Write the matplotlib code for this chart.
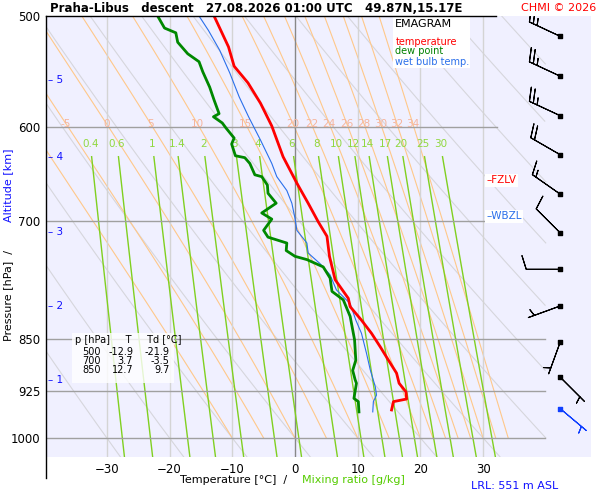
import numpy as np
import matplotlib.pyplot as plt

# sounding: temperature, dew point and wet bulb (pressure in hPa, temperature in degC)
p_temp = [500, 526, 543, 558, 577, 599, 630, 658, 680, 701, 718, 742, 771, 795, 806,
          824, 842, 861, 880, 899, 914, 927, 938, 942, 955]
t_temp = [-12.9, -10.6, -9.7, -7.5, -5.5, -3.7, -1.9, 0.3, 2.1, 3.7, 5.1, 5.5, 6.4, 8.5, 8.8,
          10.6, 12.2, 13.6, 14.9, 16.2, 16.6, 17.7, 17.8, 15.7, 15.4]

p_dew = [500, 510, 514, 522, 532, 539, 548, 562, 574, 587, 590, 596, 601, 611, 617, 629, 631,
         637, 649, 651, 660, 669, 680, 691, 698, 711, 719, 726, 735, 742, 746, 755, 769,
         786, 797, 819, 851, 880, 895, 909, 914, 937, 942, 958]
t_dew = [-21.9, -20.8, -19.0, -18.7, -17.1, -15.3, -14.7, -13.6, -12.9, -12.1, -13.0, -11.6,
         -11.0, -9.7, -10.1, -9.5, -8.0, -7.2, -6.4, -5.3, -4.4, -4.3, -3.0, -5.3, -3.7, -5.0,
         -4.3, -1.3, -1.4, 0.0, 1.9, 4.5, 5.6, 5.9, 7.7, 8.8, 9.5, 9.7, 9.2, 9.6, 9.8, 9.4,
         10.1, 10.2]

p_wet = [500, 512, 529, 549, 571, 590, 613, 637, 651, 666, 680, 697, 711, 726, 738, 751, 765,
         784, 802, 824, 842, 870, 894, 919, 932, 942, 958]
t_wet = [-15.3, -13.8, -12.0, -10.4, -8.9, -7.4, -5.5, -3.7, -2.9, -1.3, -0.5, 0.0, 0.3, 1.9,
         2.1, 4.0, 5.6, 6.6, 8.8, 9.7, 10.6, 11.4, 12.0, 12.8, 13.0, 12.5, 12.4]

# wind barbs
p_wind = [517, 552, 589, 628, 670, 714, 758, 805, 854, 905, 953]
wdir = [295, 295, 295, 300, 305, 315, 270, 250, 200, 135, 130]
wspd = [25, 25, 25, 20, 15, 10, 10, 5, 5, 5, 5]

# background lines
isotherms = [-30, -20, -10, 0, 10, 20, 30]
theta_w = [-10, -5, 0, 5, 10, 15, 20, 22, 24, 26, 28, 30, 32, 34]
theta_w_labels = [-5, 0, 5, 10, 15, 20, 22, 24, 26, 28, 30, 32, 34]
theta_dry = list(range(-30, 140, 10))
mix_ratios = [0.4, 0.6, 1, 1.4, 2, 3, 4, 6, 8, 10, 12, 14, 17, 20, 25, 30]
mix_labels = ["0.4", "0.6", "1", "1.4", "2", "3", "4", "6", "8", "10", "12", "14", "17", "20", "25", "30"]
p_levels = [600, 700, 850, 925, 1000]
p_level_tmax = [32.2, 30.3, 39.9, 39.9, 39.9]
height_km = [1, 2, 3, 4, 5]
height_p = [909, 805, 713, 630, 555]

# table values
tab_p = ["500", "700", "850"]
tab_t = ["-12.9", "3.7", "12.7"]
tab_td = ["-21.9", "-3.5", "9.7"]

T_MIN, T_MAX = -39.7, 47.2
P_TOP, P_BOT = 500, 1031.7
T_LINE_MAX = 40.0

fig = plt.figure(figsize=(6, 5), dpi=100)
ax = fig.add_axes([46 / 600, 43 / 500, 545 / 600, 441 / 500])
ax.set_facecolor("#F0F0FF")
ax.set_yscale("log")
ax.set_xlim(T_MIN, T_MAX)
ax.set_ylim(P_BOT, P_TOP)
for s in ax.spines.values():
    s.set_visible(False)

pp = np.linspace(P_TOP, P_BOT, 300)

# dry adiabats
for th in theta_dry:
    tt = (th + 273.15) * (pp / 1000.0) ** 0.2857 - 273.15
    m = tt <= T_LINE_MAX
    ax.plot(tt[m], pp[m], color="#D6D6DC", lw=0.8, zorder=1)

# moist adiabats (integrated from 1000 hPa upwards)
def es(t):
    return 6.112 * np.exp(17.67 * t / (t + 243.5))

for tw in theta_w:
    ps = np.linspace(1000, P_TOP, 400)
    ts = [tw]
    for i in range(1, len(ps)):
        T = ts[-1] + 273.15
        rs = 0.622 * es(ts[-1]) / (ps[i - 1] - es(ts[-1]))
        dtdp = (287.0 * T + 2.5e6 * rs) / (1004.0 + 2.5e6 ** 2 * rs * 0.622 / (287.0 * T ** 2)) / ps[i - 1]
        ts.append(ts[-1] + dtdp * (ps[i] - ps[i - 1]))
    ts = np.array(ts)
    m = ts <= T_LINE_MAX
    ax.plot(ts[m], ps[m], color="#FFC88A", lw=0.8, zorder=1)
    if tw in theta_w_labels:
        t600 = np.interp(597, ps[::-1], ts[::-1])
        ax.text(t600, 597, str(tw), color="#F5B49C", fontsize=7.5, ha="center", va="center", zorder=3)

# mixing ratio lines
pm = np.linspace(630, P_BOT, 100)
for w, lab in zip(mix_ratios, mix_labels):
    e = w * pm / (622.0 + w)
    td = 243.5 * np.log(e / 6.112) / (17.67 - np.log(e / 6.112))
    ax.plot(td, pm, color="#80D020", lw=1.0, zorder=2)
    e0 = w * 617 / (622.0 + w)
    td0 = 243.5 * np.log(e0 / 6.112) / (17.67 - np.log(e0 / 6.112))
    ax.text(td0, 617, lab, color="#90D840", fontsize=7.5, ha="center", va="center", zorder=3)

# isotherms and pressure levels
for t in isotherms:
    ax.axvline(t, color="#888888" if t == 0 else "#D4D4D4", lw=1, zorder=1)
for p, tmax in zip(p_levels, p_level_tmax):
    ax.plot([T_MIN, tmax], [p, p], color="#A0A0A0", lw=1, zorder=2)

# profiles
ax.plot(t_wet, p_wet, color="#2A6FEA", lw=0.8, zorder=5)
ax.plot(t_dew, p_dew, color="#008800", lw=2, zorder=5)
ax.plot(t_temp, p_temp, color="red", lw=2, zorder=6)

# wind barbs
d = np.radians(wdir)
u = -np.array(wspd) * np.sin(d)
v = -np.array(wspd) * np.cos(d)
bc = ["black"] * (len(p_wind) - 1) + ["#1040FF"]
ax.barbs([42.3] * len(p_wind), p_wind, u, v, color=bc, length=7, linewidth=0.8, zorder=6)
ax.scatter([42.3] * len(p_wind), p_wind, s=8, marker="s", c=bc, zorder=7)

# height scale
for h, p in zip(height_km, height_p):
    ax.text(-39.4, p, "\u2013 " + str(h), color="#1010FF", fontsize=7.5, va="center", ha="left")

# freezing level markers
ax.text(30.5, 655, "\u2013FZLV", color="red", fontsize=7.5, va="center",
        bbox=dict(facecolor="white", edgecolor="none", pad=1))
ax.text(30.5, 695, "\u2013WBZL", color="#2A6FEA", fontsize=7.5, va="center",
        bbox=dict(facecolor="white", edgecolor="none", pad=1))

# legend box
ax.add_patch(plt.Rectangle((15.6, 500.5), 12.3, 44.5, facecolor="white", edgecolor="none", zorder=2.5))
ax.text(16.0, 507, "EMAGRAM", fontsize=8, va="center", zorder=4)
ax.text(16.0, 522, "temperature", color="red", fontsize=7, va="center", zorder=4)
ax.text(16.0, 530, "dew point", color="green", fontsize=7, va="center", zorder=4)
ax.text(16.0, 539, "wet bulb temp.", color="#2A6FEA", fontsize=7, va="center", zorder=4)

# table
ax.add_patch(plt.Rectangle((-35.6, 842), 16.3, 72, facecolor="white", edgecolor="none", alpha=0.8, zorder=2.5))
ax.text(-35.0, 851, "p [hPa]     T     Td [\u00b0C]", fontsize=7, va="center", zorder=4)
for i in range(3):
    pr = 868 + i * 13
    ax.text(-31.0, pr, tab_p[i], fontsize=7, va="center", ha="right", zorder=4)
    ax.text(-25.8, pr, tab_t[i], fontsize=7, va="center", ha="right", zorder=4)
    ax.text(-20.0, pr, tab_td[i], fontsize=7, va="center", ha="right", zorder=4)

# axes ticks
ax.set_yticks([500, 600, 700, 850, 925, 1000])
ax.set_yticklabels(["500", "600", "700", "850", "925", "1000"])
ax.minorticks_off()
ax.set_xticks([-30, -20, -10, 0, 10, 20, 30])
ax.tick_params(length=0, labelsize=8.5, pad=4)

# frame lines
fig.add_artist(plt.Line2D([46 / 600, 46 / 600], [1 - 16 / 500, 1 - 478 / 500], color="black", lw=1))
fig.add_artist(plt.Line2D([46 / 600, 496 / 600], [1 - 16 / 500, 1 - 16 / 500], color="black", lw=1))

# titles and labels
fig.text(50 / 600, 1 - 8 / 500, "Praha-Libus   descent   27.08.2026 01:00 UTC   49.87N,15.17E",
         fontsize=8.5, fontweight="bold", va="center")
fig.text(596 / 600, 1 - 8 / 500, "CHMI \u00a9 2026", color="red", fontsize=8, va="center", ha="right")
fig.text(294 / 600, 1 - 480 / 500, "Temperature [\u00b0C]  /  ", fontsize=8, va="center", ha="right")
fig.text(302 / 600, 1 - 480 / 500, "Mixing ratio [g/kg]", color="#55CC00", fontsize=8, va="center", ha="left")
fig.text(558 / 600, 1 - 486 / 500, "LRL: 551 m ASL", color="#1010FF", fontsize=8, va="center", ha="right")
fig.text(8 / 600, 1 - 292 / 500, "Pressure [hPa]  /  ", fontsize=8, rotation=90, va="center", ha="center")
fig.text(8 / 600, 1 - 185 / 500, "Altitude [km]", color="#1010FF", fontsize=8, rotation=90, va="center", ha="center")

plt.savefig("out.png", dpi=100)
plt.close()
